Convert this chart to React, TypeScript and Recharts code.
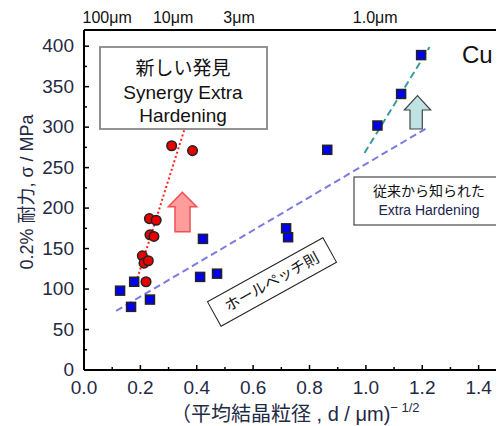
import React from 'react';
import { ScatterChart, Scatter, XAxis, YAxis, Customized } from 'recharts';

const FONT = "'Liberation Sans', Arial, 'Noto Sans CJK JP', sans-serif";
const JP = "'Noto Sans CJK JP', 'Liberation Sans', sans-serif";
const TXT = '#1f2a44';

const xTicks = [0, 0.1, 0.2, 0.3, 0.4, 0.5, 0.6, 0.7, 0.8, 0.9, 1.0, 1.1, 1.2, 1.3, 1.4];
const yTicks = [0, 25, 50, 75, 100, 125, 150, 175, 200, 225, 250, 275, 300, 325, 350, 375, 400];
const topTicks = [0.082, 0.316, 0.55, 1.033];
const topLabels = ['100μm', '10μm', '3μm', '1.0μm'];

const blueSquares = [
  { x: 0.128, y: 98 },
  { x: 0.167, y: 78 },
  { x: 0.178, y: 109 },
  { x: 0.234, y: 87 },
  { x: 0.422, y: 162 },
  { x: 0.412, y: 115 },
  { x: 0.472, y: 119 },
  { x: 0.863, y: 272 },
  { x: 0.717, y: 175 },
  { x: 0.724, y: 164 },
  { x: 1.041, y: 302 },
  { x: 1.125, y: 341 },
  { x: 1.196, y: 389 },
];

const redCircles = [
  { x: 0.311, y: 277 },
  { x: 0.385, y: 271 },
  { x: 0.232, y: 187 },
  { x: 0.256, y: 185 },
  { x: 0.234, y: 167 },
  { x: 0.248, y: 165 },
  { x: 0.207, y: 141 },
  { x: 0.213, y: 132 },
  { x: 0.228, y: 135 },
  { x: 0.22, y: 109 },
];

const hallPetchLine = [{ x: 0.114, y: 73 }, { x: 1.222, y: 300 }];
const synergyLine = [{ x: 0.18, y: 103 }, { x: 0.357, y: 298 }];
const extraLine = [{ x: 0.995, y: 268 }, { x: 1.226, y: 399 }];

const YTick = (props: any) => {
  const { x, y, payload } = props;
  const v = payload.value;
  const major = v % 50 === 0;
  return (
    <g>
      <line x1={x} x2={x + (major ? 5 : 3)} y1={y} y2={y} stroke="#000" strokeWidth={1.5} />
      {major && (
        <text x={x - 10} y={y} dy={6} textAnchor="end" fontSize={19} fontFamily={FONT} fill={TXT}>
          {v}
        </text>
      )}
    </g>
  );
};

const XTick = (props: any) => {
  const { x, y, payload, index } = props;
  const major = index % 2 === 0;
  return (
    <g>
      <line x1={x} x2={x} y1={y} y2={y - (major ? 5 : 3)} stroke="#000" strokeWidth={1.5} />
      {major && (
        <text x={x} y={y} dy={24} textAnchor="middle" fontSize={19} fontFamily={FONT} fill={TXT}>
          {payload.value.toFixed(1)}
        </text>
      )}
    </g>
  );
};

const TopTick = (props: any) => {
  const { x, y, index } = props;
  return (
    <text x={x} y={y} dy={-7} textAnchor="middle" fontSize={16} fontFamily={FONT} fill="#111">
      {topLabels[index]}
    </text>
  );
};

const Square = (props: any) => {
  const { cx, cy } = props;
  return <rect x={cx - 4.5} y={cy - 4.5} width={9} height={9} fill="#0000ee" stroke="#222" strokeWidth={1.5} />;
};

const Dot = (props: any) => {
  const { cx, cy } = props;
  return <circle cx={cx} cy={cy} r={4.8} fill="#e80000" stroke="#222" strokeWidth={1.5} />;
};

const Nothing = () => <g />;

const Annotations = () => (
  <g>
    {/* Synergy box */}
    <rect x={92} y={39} width={167} height={82} fill="#fff" stroke="#888" strokeWidth={1.8} />
    <text x={175} y={67} textAnchor="middle" fontSize={19} fontFamily={JP} fill="#111">新しい発見</text>
    <text x={175} y={91} textAnchor="middle" fontSize={19} fontFamily={FONT} fill="#111">Synergy Extra</text>
    <text x={175} y={114} textAnchor="middle" fontSize={19} fontFamily={FONT} fill="#111">Hardening</text>

    {/* Extra hardening box */}
    <rect x={346} y={169} width={150} height={48} fill="#fff" stroke="#222" strokeWidth={1} />
    <text x={421} y={188} textAnchor="middle" fontSize={14} fontFamily={JP} fill="#111">従来から知られた</text>
    <text x={421} y={207} textAnchor="middle" fontSize={14} fontFamily={FONT} fill="#1a2550">Extra Hardening</text>

    {/* Hall-Petch box */}
    <g transform="translate(264,274) rotate(-29)">
      <rect x={-66} y={-14} width={132} height={28} fill="#fff" stroke="#222" strokeWidth={1} />
      <text x={0} y={5} textAnchor="middle" fontSize={15} fontFamily={JP} fill="#111">ホールペッチ則</text>
    </g>

    {/* Cu */}
    <text x={454} y={55} fontSize={24} fontFamily={FONT} fill="#111">Cu</text>

    {/* red arrow */}
    <polygon
      points="174.3,184.3 188.7,198.7 182,198.7 182,223.7 167,223.7 167,198.7 160.3,198.7"
      fill="#ff9c9c" stroke="#f05050" strokeWidth={1.5}
    />
    {/* teal arrow */}
    <polygon
      points="409.5,87.7 422.7,102 414.3,102 414.3,121 402,121 402,102 396.3,102"
      fill="#bfe3e3" stroke="#444" strokeWidth={1.2}
    />

    {/* Y axis title */}
    <text
      x={19} y={184} transform="rotate(-90,19,184)" textAnchor="middle" dy={6}
      fontSize={18} fontFamily={FONT} fill={TXT}
    >
      0.2% <tspan fontFamily={JP}>耐力</tspan>, σ / MPa
    </text>

    {/* X axis title */}
    <text x={163} y={413} fontSize={20} fontFamily={JP} fill={TXT}>
      （平均結晶粒径
      <tspan fontFamily={FONT}> , d / μm)</tspan>
      <tspan fontFamily={FONT} fontSize={13} dy={-9}>− 1/2</tspan>
    </text>
  </g>
);

export default function App() {
  return (
    <div style={{ width: 496, height: 418, overflow: 'hidden' }}>
      <ScatterChart width={496} height={418} margin={{ top: 0, right: 0, bottom: 0, left: 0 }}>
        <XAxis
          dataKey="x" type="number" domain={[0, 1.49]} ticks={xTicks} interval={0}
          height={56} tickSize={0} tickMargin={0} tick={<XTick />}
          axisLine={{ stroke: '#000', strokeWidth: 2 }} tickLine={false} allowDataOverflow
        />
        <XAxis
          xAxisId="top" orientation="top" dataKey="x" type="number" domain={[0, 1.49]}
          ticks={topTicks} interval={0} height={22} tickSize={0} tickMargin={0}
          tick={<TopTick />} axisLine={{ stroke: '#000', strokeWidth: 2 }} tickLine={false}
          allowDataOverflow
        />
        <YAxis
          dataKey="y" type="number" domain={[0, 420]} ticks={yTicks} interval={0}
          width={76} tickSize={0} tickMargin={0} tick={<YTick />}
          axisLine={{ stroke: '#000', strokeWidth: 2 }} tickLine={false} allowDataOverflow
        />
        <Customized component={<Annotations />} />
        <Scatter data={hallPetchLine} fill="#7777dd" line={{ stroke: '#7b7be0', strokeWidth: 2, strokeDasharray: '7 4' }} shape={<Nothing />} isAnimationActive={false} />
        <Scatter data={extraLine} fill="#339999" line={{ stroke: '#3a9a9a', strokeWidth: 2, strokeDasharray: '7 4' }} shape={<Nothing />} isAnimationActive={false} />
        <Scatter data={synergyLine} fill="#ff0000" line={{ stroke: '#ff2020', strokeWidth: 2, strokeDasharray: '2 2.5' }} shape={<Nothing />} isAnimationActive={false} />
        <Scatter data={blueSquares} fill="#0000ee" shape={<Square />} isAnimationActive={false} />
        <Scatter data={redCircles} fill="#e80000" shape={<Dot />} isAnimationActive={false} />
      </ScatterChart>
    </div>
  );
}
